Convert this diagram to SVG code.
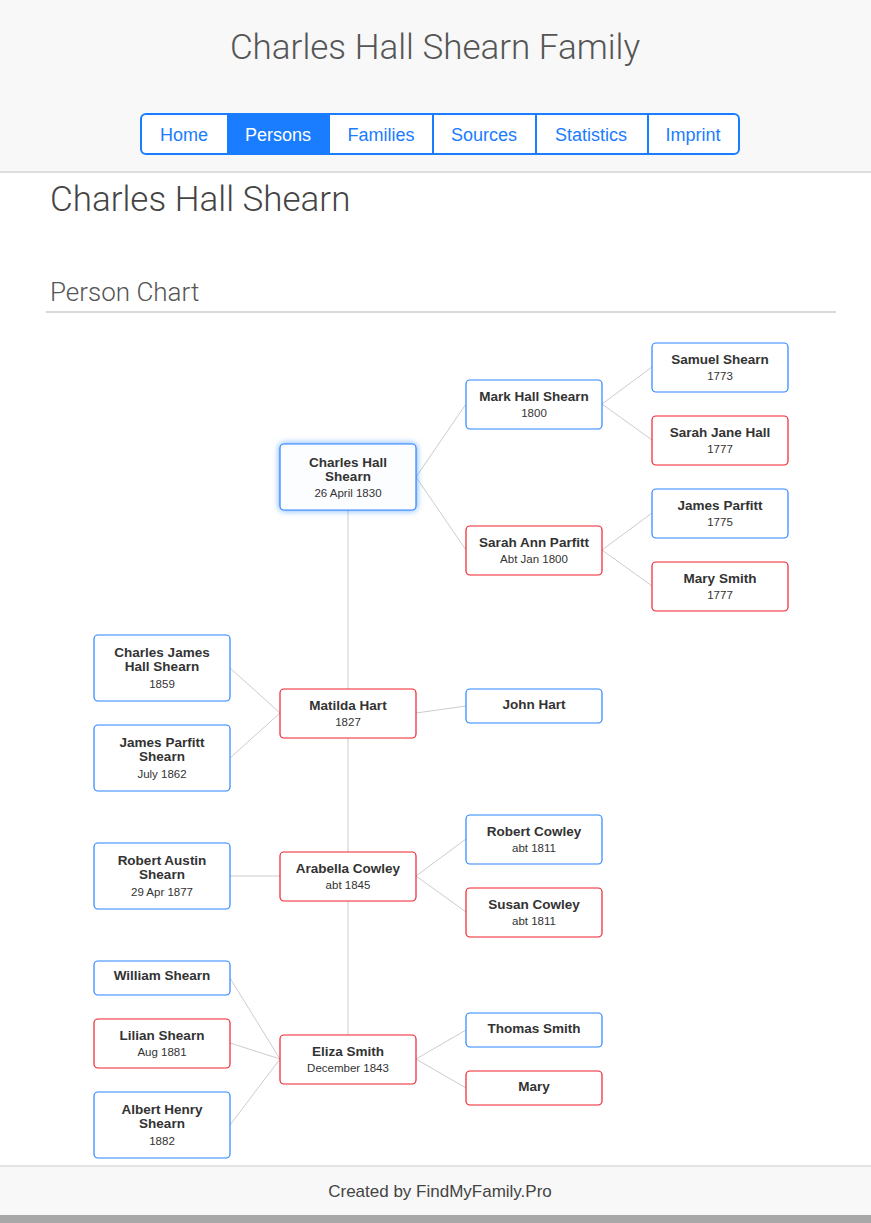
<svg xmlns="http://www.w3.org/2000/svg" width="871" height="1223" viewBox="0 0 871 1223">
<defs>
<filter id="glow" x="-20%" y="-30%" width="140%" height="160%"><feDropShadow dx="0" dy="0" stdDeviation="3" flood-color="#1a7cff" flood-opacity="0.7"/></filter>
<style>
text{font-family:"Liberation Sans",Arial,sans-serif;}
.lt{font-family:Roboto,"Liberation Sans",sans-serif;font-weight:300;}
.n rect{fill:#fff;stroke-width:1.2;}
.m rect{stroke:#2a85ff;}
.f rect{stroke:#f0202a;}
.nm{font-size:13.5px;font-weight:bold;fill:#333;text-anchor:middle;}
.dt{font-size:11.5px;fill:#333;text-anchor:middle;}
.nav{font-size:18px;fill:#1a7cff;text-anchor:middle;}
#links line{stroke:#ccc;stroke-width:1;}
</style>
</defs>
<rect width="871" height="1223" fill="#fff"/>
<rect width="871" height="172" fill="#f8f8f8"/>
<line x1="0" y1="172" x2="871" y2="172" stroke="#ddd" stroke-width="2"/>
<text class="lt" x="435" y="59" font-size="35" fill="#555" text-anchor="middle">Charles Hall Shearn Family</text>
<g id="nav">
<rect x="141" y="114" width="598" height="40" rx="5" fill="#fff" stroke="#1a7cff" stroke-width="2"/>
<rect x="227" y="115" width="103" height="38" fill="#1a7cff"/>
<g stroke="#1a7cff" stroke-width="2"><line x1="433" y1="114" x2="433" y2="154"/><line x1="536" y1="114" x2="536" y2="154"/><line x1="648" y1="114" x2="648" y2="154"/></g>
<text class="nav" x="184" y="141">Home</text>
<text class="nav" x="278" y="141" style="fill:#fff">Persons</text>
<text class="nav" x="381" y="141">Families</text>
<text class="nav" x="484" y="141">Sources</text>
<text class="nav" x="591" y="141">Statistics</text>
<text class="nav" x="693" y="141">Imprint</text>
</g>
<text class="lt" x="50" y="211" font-size="35" fill="#444">Charles Hall Shearn</text>
<text class="lt" x="50" y="301" font-size="26" fill="#555">Person Chart</text>
<line x1="46" y1="312" x2="836" y2="312" stroke="#ccc" stroke-width="1.5"/>
<g id="links">
<line x1="348" y1="510" x2="348" y2="1035"/>
<line x1="416" y1="477" x2="466" y2="404"/><line x1="416" y1="477" x2="466" y2="550"/>
<line x1="602" y1="404" x2="652" y2="367"/><line x1="602" y1="404" x2="652" y2="440"/>
<line x1="602" y1="550" x2="652" y2="513"/><line x1="602" y1="550" x2="652" y2="586"/>
<line x1="230" y1="668" x2="280" y2="713"/><line x1="230" y1="758" x2="280" y2="713"/>
<line x1="416" y1="713" x2="466" y2="706"/>
<line x1="230" y1="876" x2="280" y2="876"/>
<line x1="416" y1="876" x2="466" y2="839"/><line x1="416" y1="876" x2="466" y2="912"/>
<line x1="230" y1="978" x2="280" y2="1059"/><line x1="230" y1="1043" x2="280" y2="1059"/><line x1="230" y1="1125" x2="280" y2="1059"/>
<line x1="416" y1="1059" x2="466" y2="1030"/><line x1="416" y1="1059" x2="466" y2="1088"/>
</g>
<g id="n-charles" class="n m"><rect x="280" y="444" width="136" height="66" rx="4" filter="url(#glow)" style="fill:#fcfdff"/><text class="nm" x="348" y="467">Charles Hall</text><text class="nm" x="348" y="481">Shearn</text><text class="dt" x="348" y="497">26 April 1830</text></g>
<g id="n-mark" class="n m"><rect x="466" y="380" width="136" height="49" rx="4"/><text class="nm" x="534" y="401">Mark Hall Shearn</text><text class="dt" x="534" y="417">1800</text></g>
<g id="n-sarahann" class="n f"><rect x="466" y="526" width="136" height="49" rx="4"/><text class="nm" x="534" y="547">Sarah Ann Parfitt</text><text class="dt" x="534" y="563">Abt Jan 1800</text></g>
<g id="n-samuel" class="n m"><rect x="652" y="343" width="136" height="49" rx="4"/><text class="nm" x="720" y="364">Samuel Shearn</text><text class="dt" x="720" y="380">1773</text></g>
<g id="n-sarahjane" class="n f"><rect x="652" y="416" width="136" height="49" rx="4"/><text class="nm" x="720" y="437">Sarah Jane Hall</text><text class="dt" x="720" y="453">1777</text></g>
<g id="n-jamesp" class="n m"><rect x="652" y="489" width="136" height="49" rx="4"/><text class="nm" x="720" y="510">James Parfitt</text><text class="dt" x="720" y="526">1775</text></g>
<g id="n-marysmith" class="n f"><rect x="652" y="562" width="136" height="49" rx="4"/><text class="nm" x="720" y="583">Mary Smith</text><text class="dt" x="720" y="599">1777</text></g>
<g id="n-cjhs" class="n m"><rect x="94" y="635" width="136" height="66" rx="4"/><text class="nm" x="162" y="657">Charles James</text><text class="nm" x="162" y="671">Hall Shearn</text><text class="dt" x="162" y="688">1859</text></g>
<g id="n-matilda" class="n f"><rect x="280" y="689" width="136" height="49" rx="4"/><text class="nm" x="348" y="710">Matilda Hart</text><text class="dt" x="348" y="726">1827</text></g>
<g id="n-john" class="n m"><rect x="466" y="689" width="136" height="34" rx="4"/><text class="nm" x="534" y="709">John Hart</text></g>
<g id="n-jps" class="n m"><rect x="94" y="725" width="136" height="66" rx="4"/><text class="nm" x="162" y="747">James Parfitt</text><text class="nm" x="162" y="761">Shearn</text><text class="dt" x="162" y="778">July 1862</text></g>
<g id="n-ras" class="n m"><rect x="94" y="843" width="136" height="66" rx="4"/><text class="nm" x="162" y="865">Robert Austin</text><text class="nm" x="162" y="879">Shearn</text><text class="dt" x="162" y="896">29 Apr 1877</text></g>
<g id="n-arabella" class="n f"><rect x="280" y="852" width="136" height="49" rx="4"/><text class="nm" x="348" y="873">Arabella Cowley</text><text class="dt" x="348" y="889">abt 1845</text></g>
<g id="n-robertc" class="n m"><rect x="466" y="815" width="136" height="49" rx="4"/><text class="nm" x="534" y="836">Robert Cowley</text><text class="dt" x="534" y="852">abt 1811</text></g>
<g id="n-susan" class="n f"><rect x="466" y="888" width="136" height="49" rx="4"/><text class="nm" x="534" y="909">Susan Cowley</text><text class="dt" x="534" y="925">abt 1811</text></g>
<g id="n-william" class="n m"><rect x="94" y="961" width="136" height="34" rx="4"/><text class="nm" x="162" y="980">William Shearn</text></g>
<g id="n-lilian" class="n f"><rect x="94" y="1019" width="136" height="49" rx="4"/><text class="nm" x="162" y="1040">Lilian Shearn</text><text class="dt" x="162" y="1056">Aug 1881</text></g>
<g id="n-eliza" class="n f"><rect x="280" y="1035" width="136" height="49" rx="4"/><text class="nm" x="348" y="1056">Eliza Smith</text><text class="dt" x="348" y="1072">December 1843</text></g>
<g id="n-thomas" class="n m"><rect x="466" y="1013" width="136" height="34" rx="4"/><text class="nm" x="534" y="1033">Thomas Smith</text></g>
<g id="n-mary" class="n f"><rect x="466" y="1071" width="136" height="34" rx="4"/><text class="nm" x="534" y="1091">Mary</text></g>
<g id="n-ahs" class="n m"><rect x="94" y="1092" width="136" height="66" rx="4"/><text class="nm" x="162" y="1114">Albert Henry</text><text class="nm" x="162" y="1128">Shearn</text><text class="dt" x="162" y="1145">1882</text></g>
<rect x="0" y="1166" width="871" height="50" fill="#f8f8f8"/>
<line x1="0" y1="1166" x2="871" y2="1166" stroke="#ddd" stroke-width="1.5"/>
<text x="440" y="1197" font-size="17" fill="#444" text-anchor="middle">Created by FindMyFamily.Pro</text>
<rect x="0" y="1215" width="871" height="8" fill="#a8a8a8"/>
</svg>
